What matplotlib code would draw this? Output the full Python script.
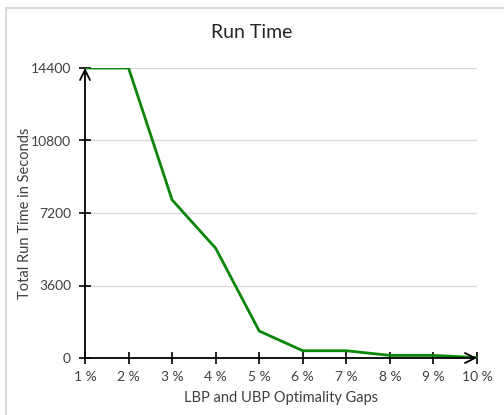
import matplotlib.pyplot as plt
from matplotlib.patches import Rectangle

gaps = ['1 %', '2 %', '3 %', '4 %', '5 %', '6 %', '7 %', '8 %', '9 %', '10 %']
run_time = [14400, 14400, 7850, 5450, 1340, 360, 360, 130, 130, 20]
y_ticks = [0, 3600, 7200, 10800, 14400]

plt.rcParams['font.family'] = ['Lato', 'DejaVu Sans']

fig = plt.figure(figsize=(5.04, 4.15), dpi=100)
fig.patches.append(Rectangle((6 / 504, -0.1), 1.2, 1 - 8 / 415 + 0.1, transform=fig.transFigure,
                             fill=False, edgecolor='#d9d9d9', linewidth=1.5))

ax = fig.add_axes([85 / 504, 57 / 415, 392 / 504, 290 / 415])
xs = list(range(len(gaps)))
ax.plot(xs, run_time, color='#0a860a', linewidth=2, zorder=3)

ax.set_xlim(0, len(gaps) - 1)
ax.set_ylim(0, 14400)
ax.set_xticks(xs)
ax.set_xticklabels(gaps)
ax.set_yticks(y_ticks)
ax.set_yticklabels([str(v) for v in y_ticks])
ax.tick_params(axis='both', direction='inout', length=8, width=1.2, color='black',
               labelsize=10, labelcolor='#404040')
ax.tick_params(axis='x', pad=5)
ax.tick_params(axis='y', pad=6)
ax.grid(axis='y', color='#d9d9d9', linewidth=1)
ax.set_axisbelow(True)
for s in ax.spines.values():
    s.set_visible(False)

# axes drawn as arrows
ax.annotate('', xy=(1, 0), xytext=(0, 0), xycoords='axes fraction',
            arrowprops=dict(arrowstyle='->', color='black', lw=1.3, mutation_scale=18, shrinkA=0, shrinkB=0))
ax.annotate('', xy=(0, 1), xytext=(0, 0), xycoords='axes fraction',
            arrowprops=dict(arrowstyle='->', color='black', lw=1.3, mutation_scale=18, shrinkA=0, shrinkB=0))

ax.set_xlabel('LBP and UBP Optimality Gaps', fontsize=10.5, color='#404040', labelpad=6)
ax.set_ylabel('Total Run Time in Seconds', fontsize=10.5, color='#404040', labelpad=0)
ax.yaxis.set_label_coords(-53 / 392, 0.5)
fig.text(0.5, 1 - 33 / 415, 'Run Time', ha='center', va='center', fontsize=14, color='#262626')

fig.savefig('out.png', dpi=100)
